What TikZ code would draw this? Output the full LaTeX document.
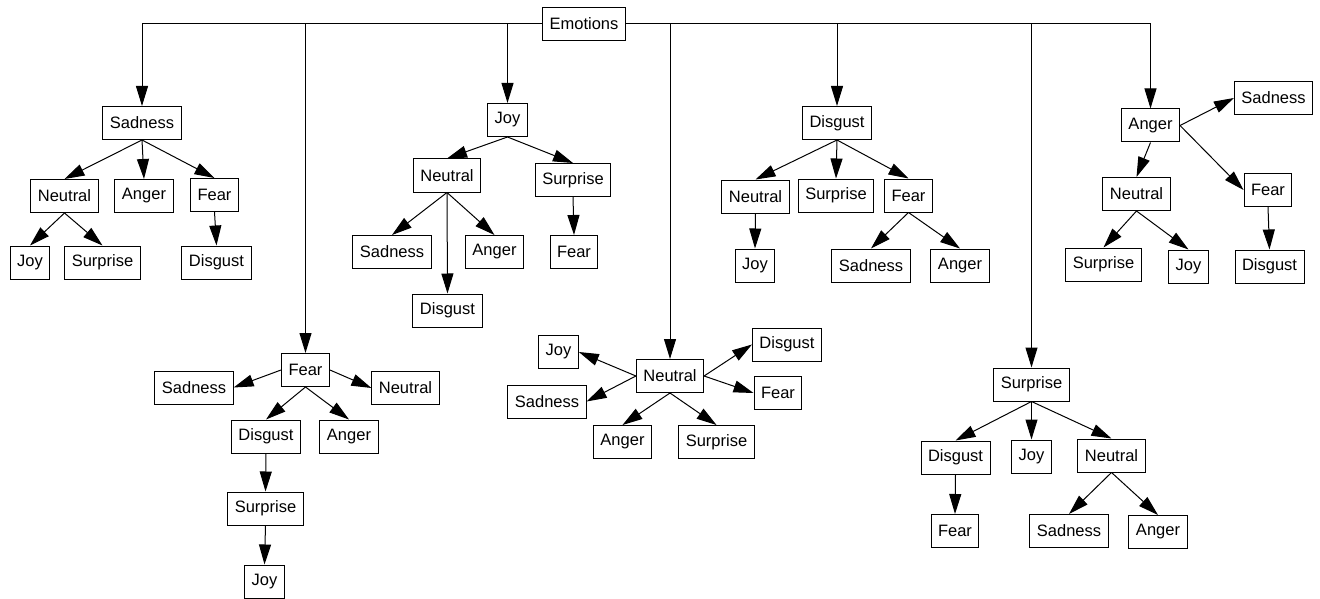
\documentclass[tikz,border=0pt]{standalone}
\usepackage{fontspec}
\setmainfont{Liberation Sans}
\usetikzlibrary{arrows.meta}
\tikzset{
  box/.style={draw, line width=1pt, inner xsep=7pt, inner ysep=0pt, minimum height=33pt, font=\fontsize{16.5}{18}\selectfont},
  arr/.style={-{Triangle[length=20pt,width=12pt]}, line width=1pt},
}
\begin{document}
\begin{tikzpicture}[x=1pt,y=-1pt]
\useasboundingbox (0,0) rectangle (1320,599);
\node [box] (em) at (584,24) {Emotions};
% sadness
\node [box] (sad) at (142,123) {Sadness};
\node [box] (sadNeu) at (64.5,196) {Neutral};
\node [box] (sadAng) at (144,196) {Anger};
\node [box] (sadFear) at (214.5,195) {Fear};
\node [box] (sadNeuJoy) at (30,262.5) {Joy};
\node [box] (sadNeuSur) at (102.5,262.5) {Surprise};
\node [box] (sadFearDis) at (216.5,262.5) {Disgust};
% fear
\node [box] (fear) at (305.5,370) {Fear};
\node [box] (fearSad) at (194,387.5) {Sadness};
\node [box] (fearNeu) at (405.5,388) {Neutral};
\node [box] (fearDis) at (266,436.5) {Disgust};
\node [box] (fearAng) at (349,436.5) {Anger};
\node [box] (fearDisSur) at (265.5,508.5) {Surprise};
\node [box] (fearDisSurJoy) at (264.5,581.5) {Joy};
% joy
\node [box] (joy) at (507.5,120) {Joy};
\node [box] (joyNeu) at (447,175.5) {Neutral};
\node [box] (joySur) at (573,180) {Surprise};
\node [box] (joyNeuSad) at (392,252) {Sadness};
\node [box] (joyNeuAng) at (494.5,252) {Anger};
\node [box] (joySurFear) at (574,252) {Fear};
\node [box] (joyNeuDis) at (447.5,310.5) {Disgust};
% neutral
\node [box] (neu) at (670,376) {Neutral};
\node [box] (neuJoy) at (558.5,352) {Joy};
\node [box] (neuSad) at (547,401.5) {Sadness};
\node [box] (neuDis) at (787,344.5) {Disgust};
\node [box] (neuFear) at (778,393) {Fear};
\node [box] (neuAng) at (622.5,442) {Anger};
\node [box] (neuSur) at (716.5,442) {Surprise};
% disgust
\node [box] (dis) at (837,123) {Disgust};
\node [box] (disNeu) at (755.5,196.5) {Neutral};
\node [box] (disSur) at (836,195.5) {Surprise};
\node [box] (disFear) at (908.5,195.5) {Fear};
\node [box] (disNeuJoy) at (755,265.5) {Joy};
\node [box] (disFearSad) at (871,265.5) {Sadness};
\node [box] (disFearAng) at (960,265.5) {Anger};
% surprise
\node [box] (sur) at (1031.5,384.5) {Surprise};
\node [box] (surDis) at (955.5,457.5) {Disgust};
\node [box] (surJoy) at (1031.5,456.5) {Joy};
\node [box] (surNeu) at (1111.5,455.5) {Neutral};
\node [box] (surDisFear) at (955,531) {Fear};
\node [box] (surNeuSad) at (1069,531) {Sadness};
\node [box] (surNeuAng) at (1158,532) {Anger};
% anger
\node [box] (ang) at (1150.5,125.5) {Anger};
\node [box] (angSad) at (1273.5,98) {Sadness};
\node [box] (angNeu) at (1136.5,194) {Neutral};
\node [box] (angFear) at (1268,190) {Fear};
\node [box] (angNeuSur) at (1103.5,264.5) {Surprise};
\node [box] (angNeuJoy) at (1188.5,266.5) {Joy};
\node [box] (angFearDis) at (1269.5,266.5) {Disgust};
% from the root
\draw [arr] (em.west) -| (sad);
\draw [arr] (em.west) -| (fear);
\draw [arr] (em.west) -| (joy);
\draw [arr] (em.east) -| (neu);
\draw [arr] (em.east) -| (dis);
\draw [arr] (em.east) -| (sur);
\draw [arr] (em.east) -| (ang);
% inside the trees
\draw [arr] (sad.south) -- (sadNeu.north);
\draw [arr] (sad.south) -- (sadAng.north);
\draw [arr] (sad.south) -- (sadFear.north);
\draw [arr] (sadNeu.south) -- (sadNeuJoy.north);
\draw [arr] (sadNeu.south) -- (sadNeuSur.north);
\draw [arr] (sadFear.south) -- (sadFearDis.north);
\draw [arr] (fear.west) -- (fearSad.east);
\draw [arr] (fear.east) -- (fearNeu.west);
\draw [arr] (fear.south) -- (fearDis.north);
\draw [arr] (fear.south) -- (fearAng.north);
\draw [arr] (fearDis.south) -- (fearDisSur.north);
\draw [arr] (fearDisSur.south) -- (fearDisSurJoy.north);
\draw [arr] (joy.south) -- (joyNeu.north);
\draw [arr] (joy.south) -- (joySur.north);
\draw [arr] (joyNeu.south) -- (joyNeuSad.north);
\draw [arr] (joyNeu.south) -- (joyNeuDis.north);
\draw [arr] (joyNeu.south) -- (joyNeuAng.north);
\draw [arr] (joySur.south) -- (joySurFear.north);
\draw [arr] (neu.west) -- (neuJoy.east);
\draw [arr] (neu.west) -- (neuSad.east);
\draw [arr] (neu.east) -- (neuDis.west);
\draw [arr] (neu.east) -- (neuFear.west);
\draw [arr] (neu.south) -- (neuAng.north);
\draw [arr] (neu.south) -- (neuSur.north);
\draw [arr] (dis.south) -- (disNeu.north);
\draw [arr] (dis.south) -- (disSur.north);
\draw [arr] (dis.south) -- (disFear.north);
\draw [arr] (disNeu.south) -- (disNeuJoy.north);
\draw [arr] (disFear.south) -- (disFearSad.north);
\draw [arr] (disFear.south) -- (disFearAng.north);
\draw [arr] (sur.south) -- (surDis.north);
\draw [arr] (sur.south) -- (surJoy.north);
\draw [arr] (sur.south) -- (surNeu.north);
\draw [arr] (surDis.south) -- (surDisFear.north);
\draw [arr] (surNeu.south) -- (surNeuSad.north);
\draw [arr] (surNeu.south) -- (surNeuAng.north);
\draw [arr] (ang.east) -- (angSad.west);
\draw [arr] (ang.east) -- (angFear.west);
\draw [arr] (ang.south) -- (angNeu.north);
\draw [arr] (angNeu.south) -- (angNeuSur.north);
\draw [arr] (angNeu.south) -- (angNeuJoy.north);
\draw [arr] (angFear.south) -- (angFearDis.north);
\end{tikzpicture}
\end{document}
